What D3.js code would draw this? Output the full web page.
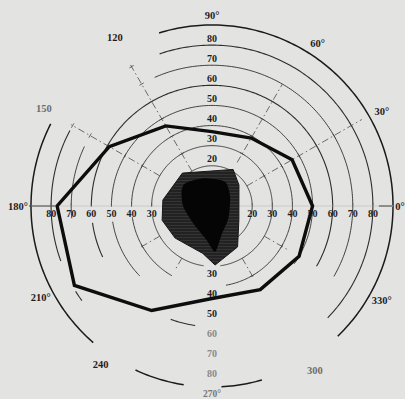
<!DOCTYPE html>
<html>
<head>
<meta charset="utf-8">
<script src="https://cdn.jsdelivr.net/npm/d3@7"></script>
<style>
  html, body { margin: 0; padding: 0; background: #e3e3e1; }
  svg { display: block; }
  text { font-family: "Liberation Serif", "DejaVu Serif", serif; font-weight: bold; fill: #1e1e1e; }
</style>
</head>
<body>
<svg id="chart" width="405" height="399"></svg>
<script>
// Perimetry chart: visual field boundary and central scotoma (degrees of eccentricity)

// Eccentricity rings (degrees)
const rings = [20, 30, 40, 50, 60, 70, 80, 90];

// Meridians of the field boundary (degrees, counter-clockwise from 0° = right)
const fieldMeridians = [0, 30, 60, 90, 120, 150, 180, 210, 240, 270, 300, 330];
const fieldLimits    = [50, 46, 39, 37, 46, 59, 77, 79, 60, 46, 48, 50];

// Scotoma outline (meridian, eccentricity)
const scotomaAngles = [132, 60, 38, 333, 302, 273, 259, 221, 196, 173];
const scotomaRadii  = [22, 21, 17, 15, 24, 29.4, 24, 24.3, 25.8, 24.6];

// Dense core of the scotoma (meridian, eccentricity)
const coreAngles = [140, 107, 62, 27, 323, 288, 274, 261, 223, 181, 155];
const coreRadii  = [17.5, 14.4, 13.7, 10.1, 10.2, 15.2, 22.8, 17.1, 12.7, 14.3, 16.7];

// Meridian labels
const meridianLabels = [
  {a: 90, t: "90°"}, {a: 57, t: "60°"}, {a: 29, t: "30°"}, {a: 0, t: "0°"},
  {a: 331, t: "330°"}, {a: 302, t: "300"}, {a: 270, t: "270°"}, {a: 235, t: "240"},
  {a: 208, t: "210°"}, {a: 180, t: "180°"}, {a: 150, t: "150"}, {a: 120, t: "120"}
];
const faintMeridians = ["300", "150"];

// Ring labels along each axis
const upperLabels = [20, 30, 40, 50, 60, 70, 80];
const lowerLabels = [30, 40, 50, 60, 70, 80];
const leftLabels  = [30, 40, 50, 60, 70, 80];
const rightLabels = [20, 30, 40, 50, 60, 70, 80];

// Dashed meridian guides: [angle, from ring, to ring]
const guideMeridians = [
  [30, 20, 86], [60, 25, 70], [120, 20, 81], [150, 30, 81],
  [210, 30, 42], [240, 30, 36], [300, 30, 42], [330, 30, 44]
];

// Drawn spans of each ring [startAngle, endAngle] (printed arcs are broken in places)
const ringSpans = {
  20: [[0, 360]],
  30: [[-13, 180], [190, 262], [278, 347]],
  40: [[-12, 180], [188, 240], [280, 348]],
  50: [[-35, 180], [189, 224]],
  60: [[-30, 180], [188, 205], [250, 262]],
  70: [[-30, 114], [155, 185]],
  80: [[-44, 109], [152, 200], [212, 216]],
  90: [[-46, 107], [153, 229], [245, 261], [273, 286]]
};

const cx = 212, cy = 206;
const svg = d3.select("#chart");
const g = svg.append("g").attr("transform", `translate(${cx},${cy})`);

const r = d3.scaleLinear().domain([0, 90]).range([0, 181]);
const rad = a => (90 - a) * Math.PI / 180;   // math angle -> d3 radial angle
const pt = (a, e) => [r(e) * Math.cos(a * Math.PI / 180), -r(e) * Math.sin(a * Math.PI / 180)];

// hatch pattern for the scotoma
const defs = svg.append("defs");
const pat = defs.append("pattern").attr("id", "hatch").attr("patternUnits", "userSpaceOnUse")
  .attr("width", 4).attr("height", 3);
pat.append("rect").attr("width", 4).attr("height", 3).attr("fill", "#222");
pat.append("rect").attr("y", 1).attr("width", 4).attr("height", 0.7).attr("fill", "#3c3c3c");

const arcLine = d3.lineRadial().angle(d => rad(d.a)).radius(d => r(d.e));

// rings
rings.forEach(d => {
  ringSpans[d].forEach(([a0, a1]) => {
    const pts = d3.range(a0, a1, 1).concat([a1]).map(a => ({a, e: d}));
    g.append("path").attr("d", arcLine(pts)).attr("fill", "none")
      .attr("stroke", d === 90 ? "#1a1a1a" : "#2e2e2e")
      .attr("stroke-width", d === 90 ? 1.5 : (d === 80 || d === 60 ? 1.1 : 0.9));
  });
});

// horizontal axis
g.append("line").attr("x1", -r(90)).attr("x2", r(90)).attr("y1", 0).attr("y2", 0)
  .attr("stroke", "#c4c4c2").attr("stroke-width", 0.8);
[[-r(90) - 2, -r(80) + 4], [r(80) + 6, r(90) - 1]].forEach(([x1, x2]) =>
  g.append("line").attr("x1", x1).attr("x2", x2).attr("y1", 0).attr("y2", 0)
    .attr("stroke", "#333").attr("stroke-width", 0.9));
rings.filter(d => d < 90).forEach(d => {
  [-1, 1].forEach(s => g.append("line").attr("x1", s * r(d)).attr("x2", s * r(d))
    .attr("y1", -3).attr("y2", 1).attr("stroke", "#555").attr("stroke-width", 0.7));
});

// dashed meridian guides with cross ticks
guideMeridians.forEach(([a, e0, e1]) => {
  const [x0, y0] = pt(a, e0), [x1, y1] = pt(a, e1);
  g.append("line").attr("x1", x0).attr("y1", y0).attr("x2", x1).attr("y2", y1)
    .attr("stroke", "#4a4a4a").attr("stroke-width", 0.8).attr("stroke-dasharray", "7,3,1.5,3");
  rings.filter(d => d > e0 && d < e1).forEach(d => {
    const [px, py] = pt(a, d);
    const t = (a + 90) * Math.PI / 180;
    g.append("line").attr("x1", px - 2.5 * Math.cos(t)).attr("y1", py + 2.5 * Math.sin(t))
      .attr("x2", px + 2.5 * Math.cos(t)).attr("y2", py - 2.5 * Math.sin(t))
      .attr("stroke", "#444").attr("stroke-width", 0.8);
  });
});

// scotoma
const closed = d3.lineRadial().angle(d => rad(d.a)).radius(d => r(d.e)).curve(d3.curveLinearClosed);
g.append("path")
  .attr("d", closed(scotomaAngles.map((a, i) => ({a, e: scotomaRadii[i]}))))
  .attr("fill", "url(#hatch)").attr("stroke", "#161616").attr("stroke-width", 1);
g.append("path")
  .attr("d", d3.lineRadial().angle(d => rad(d.a)).radius(d => r(d.e)).curve(d3.curveCardinalClosed.tension(0.3))
    (coreAngles.map((a, i) => ({a, e: coreRadii[i]}))))
  .attr("fill", "#050505");

// field boundary
g.append("path")
  .attr("d", closed(fieldMeridians.map((a, i) => ({a, e: fieldLimits[i]}))))
  .attr("fill", "none").attr("stroke", "#0d0d0d").attr("stroke-width", 3.4)
  .attr("stroke-linejoin", "miter");

// ring labels
const lab = (x, y, t, size) => g.append("text").attr("x", x).attr("y", y)
  .attr("text-anchor", "middle").attr("dominant-baseline", "central")
  .attr("font-size", size).text(t);
upperLabels.forEach(d => lab(0, -r(d) - 7, d, 10));
lowerLabels.forEach(d => lab(0, r(d) + 7, d, 10).style("fill", d >= 60 ? "#8a8a88" : null));
leftLabels.forEach(d => lab(-r(d), 7, d, 10));
rightLabels.forEach(d => lab(r(d), 7, d, 10));

// meridian labels
meridianLabels.forEach(d => {
  const e = d.a === 90 ? 94.5 : d.a === 270 ? 93.5 : d.a === 0 ? 93.5 : 96.5;
  const [x, y] = pt(d.a, e);
  lab(x, y, d.t, d.a === 270 ? 9.5 : 10.5)
    .style("fill", faintMeridians.includes(d.t) ? "#6e6e6c" : (d.a === 270 ? "#777" : null));
});
</script>
</body>
</html>
